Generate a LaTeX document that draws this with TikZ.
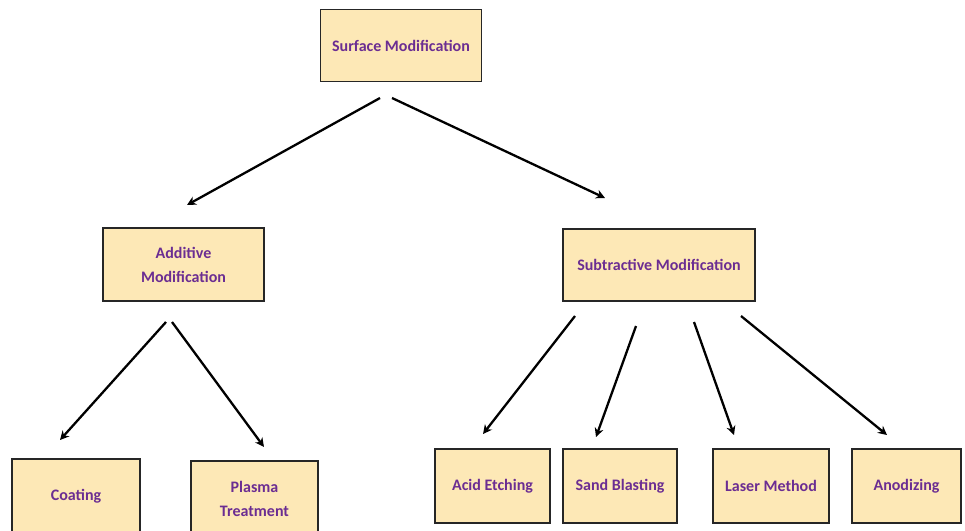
\documentclass[tikz,border=0pt]{standalone}
\usepackage{fontspec}
\setmainfont{Carlito}
\usetikzlibrary{arrows.meta}
\definecolor{boxfill}{HTML}{FDE8B6}
\definecolor{boxtext}{HTML}{6B2D92}
\definecolor{boxline}{HTML}{262626}
\begin{document}
\begin{tikzpicture}[x=1pt,y=-1pt,
  box/.style={draw=boxline,line width=1.2pt,fill=boxfill,rectangle,inner sep=0pt,
    align=center,text=boxtext,font=\fontsize{16}{24}\selectfont\bfseries},
  arr/.style={line width=2.3pt,-{Stealth[length=9pt,width=9pt]}}]
\useasboundingbox (0,0) rectangle (965,530);
\fill[white] (0,0) rectangle (965,530);
% boxes
\node[box,minimum width=161pt,minimum height=72pt] (surf) at (401,45.5) {Surface Modification};
\node[box,minimum width=161pt,minimum height=73pt] (add) at (183.5,264.5) {Additive\\Modification};
\node[box,minimum width=192pt,minimum height=72pt] (sub) at (659,265) {Subtractive Modification};
\node[box,minimum width=128pt,minimum height=75pt] (coat) at (76,496.5) {Coating};
\node[box,minimum width=127pt,minimum height=75pt] (plas) at (254.5,498.5) {Plasma\\Treatment};
\node[box,minimum width=115pt,minimum height=74pt] (acid) at (492.5,486) {Acid Etching};
\node[box,minimum width=114pt,minimum height=74pt] (sand) at (620,486) {Sand Blasting};
\node[box,minimum width=116pt,minimum height=74pt] (laser) at (771,486) {Laser Method};
\node[box,minimum width=109pt,minimum height=74pt] (anod) at (906.5,486) {Anodizing};
% arrow end points (arrows do not touch the boxes)
\coordinate (s1) at (380,98);   \coordinate (e1) at (187,205);
\coordinate (s2) at (392,98);   \coordinate (e2) at (605,198);
\coordinate (s3) at (166,322);  \coordinate (e3) at (60,440);
\coordinate (s4) at (172,322);  \coordinate (e4) at (264,447);
\coordinate (s5) at (575,316);  \coordinate (e5) at (483,434);
\coordinate (s6) at (636,326);  \coordinate (e6) at (596,437);
\coordinate (s7) at (694,322);  \coordinate (e7) at (734,435);
\coordinate (s8) at (741,316);  \coordinate (e8) at (887,435);
\draw[arr] (s1) -- (e1);
\draw[arr] (s2) -- (e2);
\draw[arr] (s3) -- (e3);
\draw[arr] (s4) -- (e4);
\draw[arr] (s5) -- (e5);
\draw[arr] (s6) -- (e6);
\draw[arr] (s7) -- (e7);
\draw[arr] (s8) -- (e8);
\end{tikzpicture}
\end{document}
